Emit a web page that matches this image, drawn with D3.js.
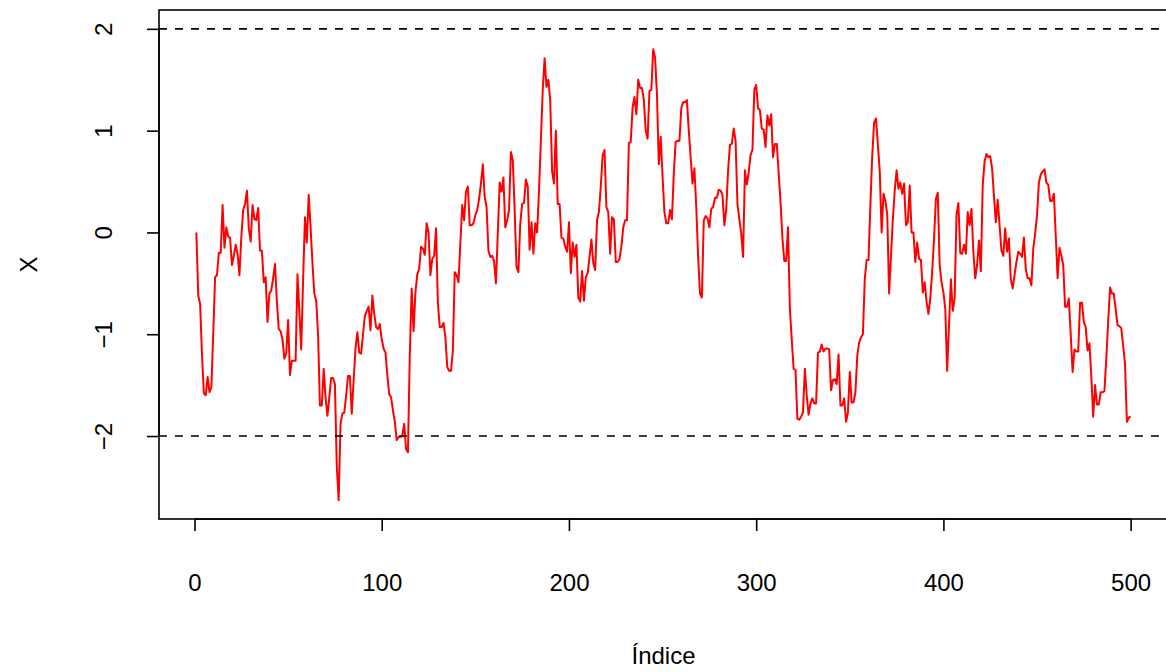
<!DOCTYPE html>
<html>
<head>
<meta charset="utf-8">
<script src="https://cdn.jsdelivr.net/npm/d3@7"></script>
<style>
  html, body { margin: 0; padding: 0; background: #fff; }
  svg { display: block; font-family: "Liberation Sans", Arial, Helvetica, sans-serif; }
</style>
</head>
<body>
<svg id="chart" width="1166" height="672"></svg>
<script>
// ---- data ----
const values = [
  0, -0.62, -0.70, -1.2, -1.58, -1.6, -1.42, -1.57, -1.52, -1.0,
  -0.44, -0.42, -0.2, -0.2, 0.27, -0.15, 0.05, -0.04, -0.05, -0.32,
  -0.23, -0.12, -0.21, -0.42, -0.05, 0.22, 0.28, 0.41, 0.04, -0.09,
  0.27, 0.13, 0.12, 0.24, -0.18, -0.18, -0.49, -0.44, -0.88, -0.6,
  -0.57, -0.45, -0.31, -0.68, -0.95, -0.97, -1.05, -1.24, -1.19, -0.86,
  -1.4, -1.26, -1.26, -1.26, -0.41, -0.78, -1.15, -0.47, 0.15, -0.1,
  0.37, 0.05, -0.3, -0.6, -0.67, -1.0, -1.7, -1.7, -1.34, -1.62,
  -1.8, -1.62, -1.43, -1.43, -1.49, -2.3, -2.63, -1.88, -1.78, -1.77,
  -1.6, -1.41, -1.41, -1.78, -1.45, -1.14, -0.98, -1.18, -1.19, -1.0,
  -0.82, -0.77, -0.73, -0.96, -0.62, -0.8, -0.93, -0.95, -0.9, -1.05,
  -1.14, -1.18, -1.4, -1.59, -1.62, -1.75, -1.86, -2.04, -2.01, -2.01,
  -2.0, -1.88, -2.13, -2.16, -1.2, -0.55, -0.97, -0.59, -0.41, -0.36,
  -0.14, -0.16, -0.22, 0.09, 0.0, -0.42, -0.26, -0.23, 0.04, -0.7,
  -0.93, -0.93, -0.89, -1.03, -1.32, -1.36, -1.36, -1.16, -0.39, -0.42,
  -0.49, -0.1, 0.27, 0.12, 0.4, 0.45, 0.07, 0.07, 0.09, 0.17,
  0.22, 0.33, 0.48, 0.67, 0.35, 0.25, -0.18, -0.24, -0.23, -0.28,
  -0.5, -0.01, 0.49, 0.4, 0.54, 0.05, 0.12, 0.22, 0.79, 0.71,
  0.22, -0.34, -0.39, 0.09, 0.28, 0.29, 0.52, 0.45, -0.17, 0.1,
  -0.21, 0.09, 0.0, 0.41, 0.9, 1.4, 1.71, 1.43, 1.5, 1.3,
  0.6, 0.48, 1.0, 0.28, 0.28, -0.05, -0.06, -0.14, -0.19, 0.1,
  -0.4, -0.1, -0.24, -0.12, -0.64, -0.68, -0.38, -0.67, -0.44, -0.4,
  -0.24, -0.07, -0.3, -0.37, 0.12, 0.2, 0.45, 0.76, 0.81, 0.25,
  0.2, -0.21, 0.15, 0.13, -0.29, -0.29, -0.26, -0.14, 0.05, 0.12,
  0.12, 0.88, 0.89, 1.23, 1.33, 1.16, 1.5, 1.42, 1.42, 1.3,
  1.0, 0.92, 1.39, 1.4, 1.8, 1.72, 1.36, 0.67, 0.94, 0.55,
  0.2, 0.09, 0.09, 0.22, 0.13, 0.58, 0.89, 0.9, 0.9, 1.22,
  1.28, 1.28, 1.3, 1.0, 0.74, 0.48, 0.63, 0.25, -0.24, -0.6,
  -0.64, 0.12, 0.16, 0.14, 0.05, 0.23, 0.25, 0.34, 0.34, 0.42,
  0.41, 0.37, 0.07, 0.23, 0.61, 0.86, 0.87, 1.02, 0.9, 0.28,
  0.13, -0.01, -0.24, 0.61, 0.47, 0.59, 0.76, 0.81, 1.4, 1.45,
  1.22, 1.2, 1.02, 1.01, 0.84, 1.15, 1.05, 1.16, 0.74, 0.87,
  0.87, 0.59, 0.3, -0.05, -0.28, -0.28, 0.05, -0.75, -1.05, -1.34,
  -1.35, -1.83, -1.84, -1.81, -1.77, -1.34, -1.6, -1.79, -1.68, -1.63,
  -1.68, -1.68, -1.18, -1.17, -1.1, -1.17, -1.14, -1.14, -1.15, -1.55,
  -1.45, -1.44, -1.49, -1.2, -1.7, -1.7, -1.63, -1.86, -1.77, -1.37,
  -1.67, -1.67, -1.57, -1.21, -1.08, -1.03, -1.0, -0.46, -0.27, -0.27,
  0.27, 0.76, 1.08, 1.12, 0.86, 0.6, 0.0, 0.38, 0.31, 0.18,
  -0.6, -0.23, 0.13, 0.41, 0.61, 0.43, 0.49, 0.38, 0.48, 0.07,
  0.1, 0.46, 0.0, 0.0, -0.29, -0.1, -0.26, -0.27, -0.59, -0.49,
  -0.68, -0.8, -0.65, -0.39, -0.06, 0.33, 0.39, -0.32, -0.49, -0.59,
  -0.75, -1.36, -0.91, -0.46, -0.77, -0.65, 0.17, 0.29, -0.2, -0.21,
  -0.12, -0.21, 0.2, 0.07, 0.23, -0.19, -0.45, -0.32, -0.08, -0.38,
  0.46, 0.7, 0.77, 0.74, 0.75, 0.63, 0.36, 0.1, 0.32, 0.07,
  -0.18, -0.23, 0.04, -0.19, -0.06, -0.46, -0.55, -0.42, -0.29, -0.19,
  -0.21, -0.24, -0.05, -0.36, -0.45, -0.45, -0.52, -0.16, -0.01, 0.17,
  0.49, 0.57, 0.6, 0.62, 0.49, 0.47, 0.31, 0.31, 0.38, -0.03,
  -0.45, -0.15, -0.23, -0.32, -0.73, -0.73, -0.65, -1.0, -1.37, -1.15,
  -1.17, -1.17, -0.69, -0.69, -0.88, -0.93, -1.16, -1.09, -1.41, -1.81,
  -1.5, -1.69, -1.69, -1.57, -1.57, -1.56, -1.24, -0.88, -0.54, -0.6,
  -0.6, -0.75, -0.91, -0.92, -0.94, -1.11, -1.29, -1.86, -1.82, -1.81
];
const refLines = [2, -2];
const xTicks = [0, 100, 200, 300, 400, 500];
const xTickLabels = ["0", "100", "200", "300", "400", "500"];
const yTicks = [-2, -1, 0, 1, 2];
const yTickLabels = ["\u22122", "\u22121", "0", "1", "2"];
const xLabel = "Índice";
const yLabel = "X";

// ---- layout ----
const svg = d3.select("#chart");
const plot = { left: 159, right: 1168, top: 10, bottom: 519 };
const FONT = 24;

const idx = values.map((_, i) => i + 1);
function ext(lo, hi) { const r = hi - lo; return [lo - 0.04 * r, hi + 0.04 * r]; }
const xDom = ext(1, values.length);
const yDom = ext(Math.min(d3.min(values), d3.min(refLines)), Math.max(d3.max(values), d3.max(refLines)));

const x = d3.scaleLinear().domain(xDom).range([plot.left, plot.right]);
const y = d3.scaleLinear().domain(yDom).range([plot.bottom, plot.top]);

// clip
svg.append("defs").append("clipPath").attr("id", "clip")
  .append("rect").attr("x", plot.left).attr("y", plot.top)
  .attr("width", plot.right - plot.left).attr("height", plot.bottom - plot.top);

// series line
const line = d3.line().x((d, i) => x(idx[i])).y(d => y(d));
svg.append("path")
  .datum(values)
  .attr("clip-path", "url(#clip)")
  .attr("fill", "none")
  .attr("stroke", "#ff0000")
  .attr("stroke-width", 2)
  .attr("stroke-linejoin", "round")
  .attr("d", line);

// reference dashed lines
svg.selectAll("line.ref").data(refLines).enter().append("line")
  .attr("class", "ref")
  .attr("x1", plot.left).attr("x2", plot.right)
  .attr("y1", d => y(d)).attr("y2", d => y(d))
  .attr("stroke", "#000").attr("stroke-width", 1.7)
  .attr("stroke-dasharray", "8,8");

// box
svg.append("rect")
  .attr("x", plot.left).attr("y", plot.top)
  .attr("width", plot.right - plot.left).attr("height", plot.bottom - plot.top)
  .attr("fill", "none").attr("stroke", "#000").attr("stroke-width", 1.6);

// x axis
const xAxis = d3.axisBottom(x).tickValues(xTicks).tickSize(12).tickPadding(18)
  .tickFormat((d, i) => xTickLabels[i]);
const gx = svg.append("g").attr("transform", `translate(0,${plot.bottom})`).call(xAxis);
gx.select(".domain").attr("d", `M${x(xTicks[0])},0H${x(xTicks[xTicks.length - 1])}`)
  .attr("stroke-width", 1.6);
gx.selectAll(".tick line").attr("stroke-width", 1.6);
gx.selectAll(".tick text").attr("font-size", FONT).attr("font-family", null)
  .attr("fill", "#000").attr("dy", null).attr("y", 72);

// y axis
const yAxis = d3.axisLeft(y).tickValues(yTicks).tickSize(12)
  .tickFormat((d, i) => yTickLabels[i]);
const gy = svg.append("g").attr("transform", `translate(${plot.left},0)`).call(yAxis);
gy.select(".domain").attr("d", `M0,${y(yTicks[0])}V${y(yTicks[yTicks.length - 1])}`)
  .attr("stroke-width", 1.6);
gy.selectAll(".tick line").attr("stroke-width", 1.6);
gy.selectAll(".tick text")
  .attr("font-size", FONT).attr("font-family", null).attr("fill", "#000")
  .attr("x", null).attr("dy", null)
  .attr("text-anchor", "middle")
  .attr("transform", "translate(-47,0) rotate(-90)");

// axis titles
svg.append("text")
  .attr("x", (plot.left + plot.right) / 2).attr("y", 664)
  .attr("text-anchor", "middle").attr("font-size", FONT).attr("fill", "#000")
  .text(xLabel);
svg.append("text")
  .attr("transform", `translate(37,${(plot.top + plot.bottom) / 2}) rotate(-90)`)
  .attr("text-anchor", "middle").attr("font-size", FONT).attr("fill", "#000")
  .text(yLabel);
</script>
</body>
</html>
